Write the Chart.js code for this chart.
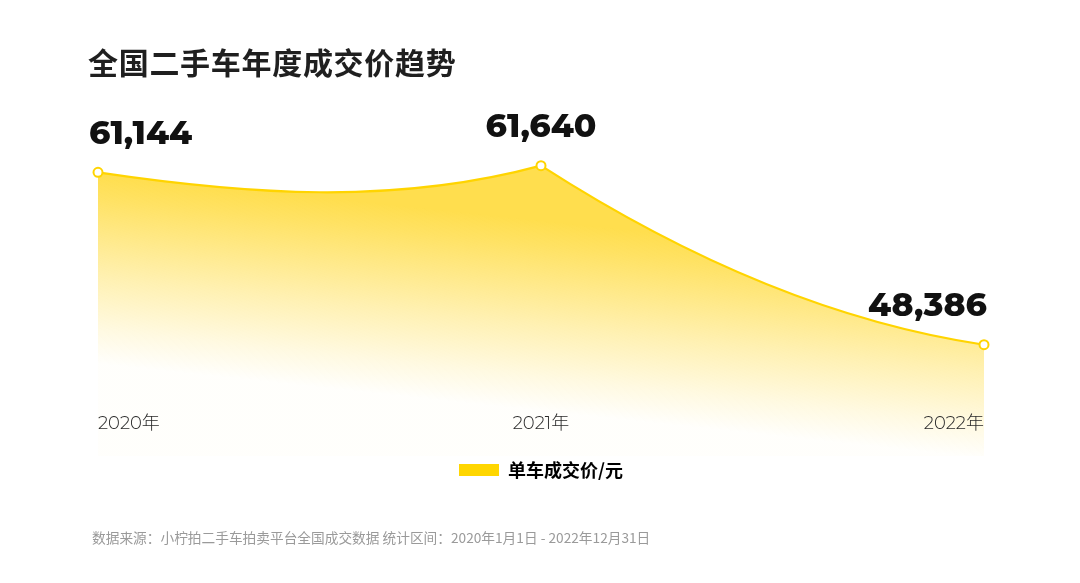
<!DOCTYPE html>
<html>
<head>
<meta charset="utf-8">
<script src="https://cdn.jsdelivr.net/npm/chart.js@4.4.1/dist/chart.umd.min.js"></script>
<style>
  html, body { margin: 0; padding: 0; background: #ffffff; }
  #wrap { position: relative; width: 1080px; height: 583px; overflow: hidden; }
  #title { position: absolute; left: 88px; top: 41px; font: bold 30px "Noto Sans CJK SC", sans-serif; color: #1f1f1f; line-height: 40px; letter-spacing: 0.7px; }
  #note { position: absolute; left: 92px; top: 528px; font: 13.7px "Noto Sans CJK SC", sans-serif; color: #9a9a9a; line-height: 18px; }
  #chartBox { position: absolute; left: 0; top: 0; width: 1080px; height: 583px; }
</style>
</head>
<body>
<div id="wrap">
  <div id="chartBox"><canvas id="c"></canvas></div>
  <div id="title">全国二手车年度成交价趋势</div>
  <div id="note">数据来源：小柠拍二手车拍卖平台全国成交数据 统计区间：2020年1月1日 - 2022年12月31日</div>
</div>
<script>
// ---- data ----
const years = ['2020年', '2021年', '2022年'];
const avgPrice = [61144, 61640, 48386];
const seriesName = '单车成交价/元';

// ---- styles ----
const LINE_COLOR = '#FFD400';
const LEGEND_COLOR = '#FFD600';
// bezier control-point vertical offsets (px) per segment: [from start, from end]
const CURVE = [[22, 40], [95, -22]];

const curvePlugin = {
  id: 'customCurve',
  beforeDatasetsDraw(chart) {
    const meta = chart.getDatasetMeta(0);
    const pts = meta.data;
    for (let i = 0; i < pts.length - 1; i++) {
      const a = pts[i], b = pts[i + 1];
      const dx = (b.x - a.x) / 3;
      a.cp2x = a.x + dx; a.cp2y = a.y + CURVE[i][0];
      b.cp1x = b.x - dx; b.cp1y = b.y + CURVE[i][1];
    }
    if (pts.length) { pts[0].cp1x = pts[0].x; pts[0].cp1y = pts[0].y; const l = pts[pts.length-1]; l.cp2x = l.x; l.cp2y = l.y; }
    meta.dataset._pointsUpdated = true;
    meta.dataset._path = undefined;
  }
};

const labelPlugin = {
  id: 'valueLabels',
  afterDatasetsDraw(chart) {
    const ctx = chart.ctx;
    const meta = chart.getDatasetMeta(0);
    const data = chart.data.datasets[0].data;
    ctx.save();
    ctx.font = '800 33px "Montserrat", "Open Sans", sans-serif';
    ctx.fillStyle = '#111111';
    ctx.textBaseline = 'middle';
    meta.data.forEach((p, i) => {
      const n = meta.data.length;
      let x = p.x;
      if (i === 0) { ctx.textAlign = 'left'; x = p.x - 9; }
      else if (i === n - 1) { ctx.textAlign = 'right'; x = p.x + 3; }
      else ctx.textAlign = 'center';
      ctx.fillText(data[i].toLocaleString('en-US'), x, p.y - 38);
    });
    ctx.restore();
  }
};

function fillGradient(context) {
  const ctx = context.chart.ctx;
  const g = ctx.createLinearGradient(562, 223, 542, 411);
  g.addColorStop(0, 'rgba(255,222,78,1)');
  g.addColorStop(0.13, 'rgba(255,222,78,0.88)');
  g.addColorStop(0.55, 'rgba(255,222,78,0.43)');
  g.addColorStop(0.82, 'rgba(255,222,78,0.17)');
  g.addColorStop(1, 'rgba(255,222,78,0.02)');
  return g;
}

new Chart(document.getElementById('c'), {
  type: 'line',
  data: {
    labels: years,
    datasets: [{
      label: seriesName,
      data: avgPrice,
      borderColor: LINE_COLOR,
      borderWidth: 2.2,
      backgroundColor: fillGradient,
      fill: 'start',
      tension: 0.4,
      pointRadius: 4.5,
      pointBorderWidth: 2,
      pointBackgroundColor: '#ffffff',
      pointBorderColor: LINE_COLOR,
      clip: false
    }]
  },
  options: {
    responsive: true,
    maintainAspectRatio: false,
    animation: false,
    events: [],
    layout: { padding: { left: 98, right: 96, top: 100, bottom: 94 } },
    scales: {
      x: {
        type: 'category',
        offset: false,
        position: { y: 43500 },
        grid: { display: false, drawTicks: false },
        border: { display: false },
        ticks: {
          z: 1,
          align: 'inner',
          padding: 2,
          color: '#2a2a2a',
          font: { family: '"Montserrat", "Noto Sans CJK SC", sans-serif', size: 18, weight: 300 }
        }
      },
      y: {
        display: false,
        min: 40150,
        max: 66500
      }
    },
    plugins: {
      title: { display: false },
      tooltip: { enabled: false },
      legend: {
        display: true,
        position: 'bottom',
        labels: {
          boxWidth: 40,
          boxHeight: 12,
          padding: 5,
          color: '#111111',
          font: { family: '"Noto Sans CJK SC", sans-serif', size: 18, weight: 'bold' },
          generateLabels(chart) {
            return chart.data.datasets.map((ds, i) => ({
              text: ds.label,
              fillStyle: LEGEND_COLOR,
              strokeStyle: LEGEND_COLOR,
              lineWidth: 0,
              hidden: false,
              datasetIndex: i
            }));
          }
        }
      }
    }
  },
  plugins: [curvePlugin, labelPlugin]
});
</script>
</body>
</html>
